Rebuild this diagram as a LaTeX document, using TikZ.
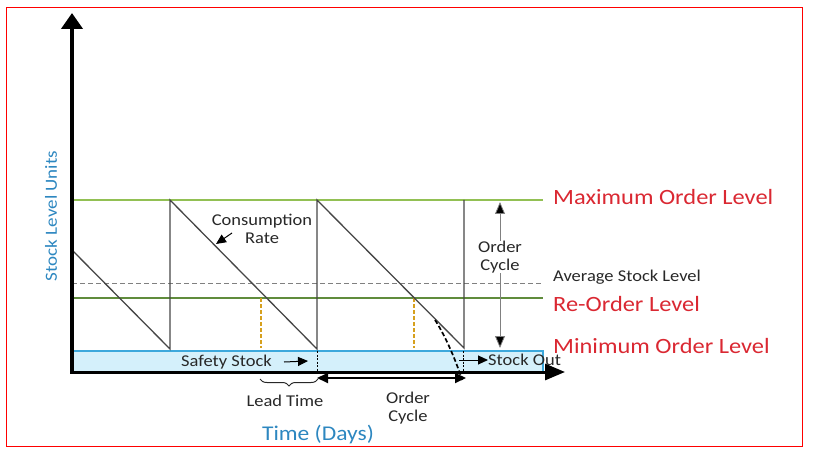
\documentclass[tikz,border=0pt]{standalone}
\usepackage{fontspec}
\setmainfont{Carlito}[FakeStretch=1.12]
\usetikzlibrary{arrows.meta,decorations.pathreplacing}
\definecolor{redtxt}{RGB}{218,40,50}
\definecolor{bluetxt}{RGB}{45,135,192}
\definecolor{maxgreen}{RGB}{146,192,84}
\definecolor{rolgreen}{RGB}{96,140,60}
\definecolor{boxfill}{RGB}{212,240,251}
\definecolor{boxedge}{RGB}{60,168,220}
\definecolor{sawgray}{RGB}{70,70,70}
\definecolor{goldline}{RGB}{214,160,30}
\definecolor{txtgray}{RGB}{40,40,40}
\tikzset{
  lbl/.style={font=\fontsize{16.5}{18}\selectfont, text=txtgray, inner sep=0pt, align=center},
  biglbl/.style={font=\fontsize{21.8}{24}\selectfont, text=redtxt, inner sep=0pt, anchor=west},
  saw/.style={draw=sawgray, line width=1.3pt},
  smallarrow/.style={-{Triangle[width=9pt,length=10pt]}, line width=1pt, draw=black},
  goldash/.style={draw=goldline, line width=1.5pt, dash pattern=on 4pt off 2pt},
}
\begin{document}
\begin{tikzpicture}[x=1pt,y=-1pt]
\useasboundingbox (0,0) rectangle (814,457);
\draw[red, line width=1.5pt] (6.5,7.5) rectangle (802.5,446.5);

% safety stock box
\draw[fill=boxfill, draw=boxedge, line width=1.5pt] (72,351) rectangle (543,372);

% level lines
\draw[maxgreen, line width=1.6pt] (72,200) -- (543,200);
\draw[rolgreen, line width=1.8pt] (72,298) -- (543,298);
\draw[gray, line width=0.9pt, dash pattern=on 5pt off 3pt] (72,283) -- (543,283);

% yellow dashed reorder drops
\draw[goldash] (261,298) -- (261,348);
\draw[goldash] (414,298) -- (414,348);

% sawtooth
\coordinate (s0) at (72,250);
\coordinate (s1) at (170,349);
\coordinate (s2) at (170,200);
\coordinate (s3) at (317,349);
\coordinate (s4) at (317,200);
\coordinate (s5) at (464,348);
\coordinate (s6) at (464,200);
\draw[saw] (s0) -- (s1) -- (s2) -- (s3) -- (s4) -- (s5) -- (s6);

% thin dashed verticals in box
\draw[black, line width=0.7pt, dash pattern=on 2pt off 1.5pt] (317,351) -- (317,372);
\draw[black, line width=0.7pt, dash pattern=on 2pt off 1.5pt] (463,351) -- (463,372);

% stock out dashed curve
\coordinate (so1) at (435,320);
\coordinate (so2) at (462,380);
\draw[black, line width=1.7pt, dash pattern=on 4.5pt off 2.5pt] (so1) .. controls (443,332) and (455,357) .. (so2);

% axes
\coordinate (origin) at (72,373);
\coordinate (ytip) at (72,13);
\coordinate (xstart) at (70,372);
\coordinate (xtip) at (565,372);
\draw[line width=4pt, -{Triangle[width=21pt,length=16pt]}] (origin) -- (ytip);
\draw[line width=3pt, -{Triangle[width=16pt,length=20pt]}] (xstart) -- (xtip);

% right labels
\node[biglbl] (maxl) at (553,197) {Maximum Order Level};
\node[lbl, anchor=west] (avgl) at (553,277) {Average Stock Level};
\node[biglbl] (roll) at (553,304) {Re-Order Level};
\node[biglbl] (minl) at (553,346) {Minimum Order Level};

% order cycle vertical
\node[lbl] (oc1) at (500,257) {Order\\Cycle};
\coordinate (octop) at (500,202);
\coordinate (ocbot) at (500,348);
\draw[line width=0.8pt, draw=gray, -{Triangle[width=10pt,length=12pt,fill=black]}] (oc1.north) -- (octop);
\draw[line width=0.8pt, draw=gray, -{Triangle[width=10pt,length=12pt,fill=black]}] (oc1.south) -- (ocbot);

% consumption rate
\node[lbl] (cons) at (262,221) {Consumption};
\node[lbl] (rate) at (262,238) {Rate};
\coordinate (crtail) at (232,233);
\coordinate (crtip) at (216,244);
\draw[smallarrow] (crtail) -- (crtip);

% safety stock
\node[lbl, anchor=east] (ss) at (272,362) {Safety Stock};
\coordinate (sstip) at (308,361);
\draw[smallarrow] ([xshift=12pt]ss.east) -- (sstip);

% stock out
\node[lbl, anchor=west] (sout) at (488,360) {Stock Out};
\coordinate (soutstart) at (459,360);
\draw[smallarrow] (soutstart) -- (sout.west);

% order cycle horizontal
\coordinate (och1) at (317,378);
\coordinate (och2) at (466,378);
\draw[line width=1.8pt, {Triangle[width=10pt,length=11pt]}-{Triangle[width=10pt,length=11pt]}] (och1) -- (och2);
\node[lbl] (oc2) at (408,408) {Order\\Cycle};

% lead time brace
\coordinate (lt1) at (260,379);
\coordinate (lt2) at (318,379);
\draw[txtgray, line width=1pt, decorate, decoration={brace, amplitude=7pt, mirror}] (lt1) -- (lt2);
\node[lbl] (lead) at (285,401) {Lead Time};

% axis titles
\node[font=\fontsize{21}{24}\selectfont, text=bluetxt, inner sep=0pt] (tx) at (318,435) {Time (Days)};
\node[font=\fontsize{17}{20}\selectfont, text=bluetxt, inner sep=0pt, rotate=90] (ty) at (51,216) {Stock Level Units};
\end{tikzpicture}
\end{document}
